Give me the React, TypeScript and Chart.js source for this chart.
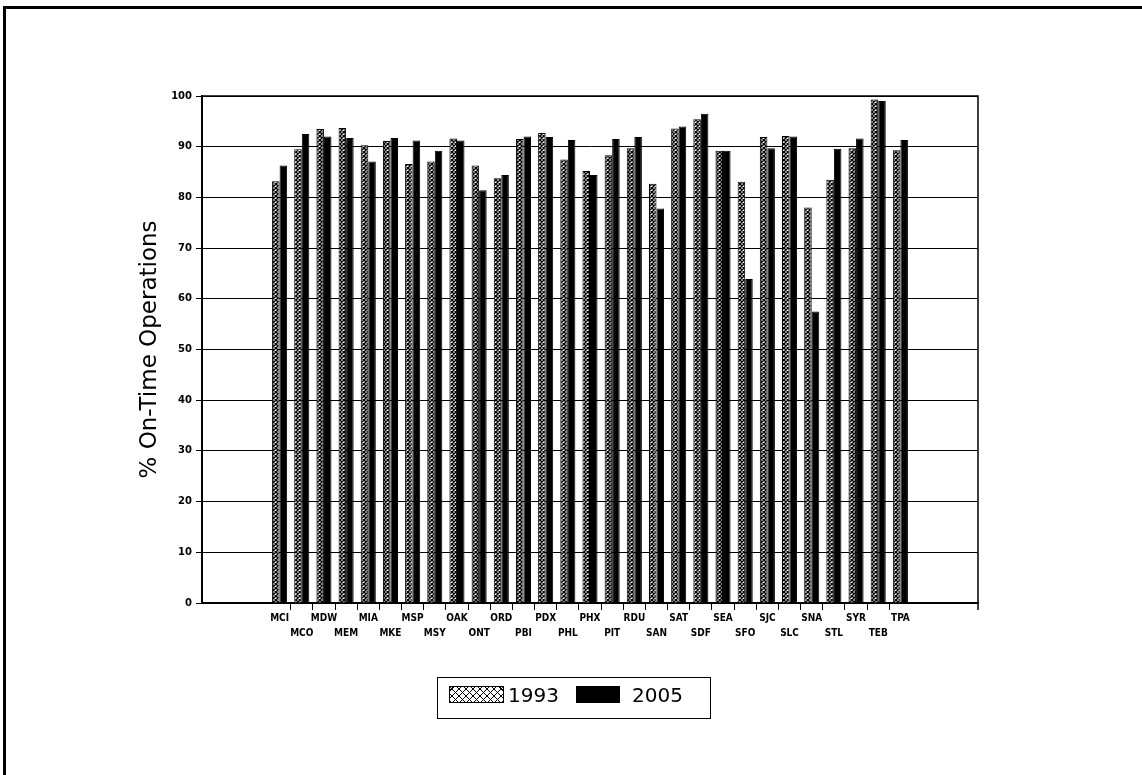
import React, { useEffect, useRef } from 'react';
import { Chart, registerables } from 'chart.js';

Chart.register(...registerables);

const airports = ['MCI', 'MCO', 'MDW', 'MEM', 'MIA', 'MKE', 'MSP', 'MSY', 'OAK', 'ONT', 'ORD', 'PBI', 'PDX', 'PHL', 'PHX', 'PIT', 'RDU', 'SAN', 'SAT', 'SDF', 'SEA', 'SFO', 'SJC', 'SLC', 'SNA', 'STL', 'SYR', 'TEB', 'TPA'];
const values1993 = [83.2, 89.5, 93.5, 93.7, 90.3, 91.1, 86.6, 87.1, 91.6, 86.3, 83.8, 91.5, 92.7, 87.5, 85.2, 88.3, 89.7, 82.7, 93.6, 95.4, 89.2, 83.1, 91.9, 92.1, 78.0, 83.5, 89.7, 99.3, 89.3];
const values2005 = [86.3, 92.5, 92.0, 91.7, 87.1, 91.7, 91.2, 89.2, 91.2, 81.4, 84.4, 92.0, 91.9, 91.3, 84.4, 91.5, 91.9, 77.8, 94.0, 96.5, 89.2, 63.9, 89.7, 92.0, 57.5, 89.6, 91.6, 99.0, 91.3];
const seriesNames = ['1993', '2005'];
const yTitle = '% On-Time Operations';
const yMin = 0;
const yMax = 100;
const yStep = 10;
const emptySlots = 3;

const W = 1142;
const H = 775;

function padArr<T>(arr: T[], fill: T): T[] {
  const pad = new Array(emptySlots).fill(fill);
  return [...pad, ...arr, ...pad];
}

function makePattern(): CanvasPattern | string {
  const n = 4;
  const tile = document.createElement('canvas');
  tile.width = n;
  tile.height = n;
  const t = tile.getContext('2d');
  if (!t) return '#777';
  t.fillStyle = '#fff';
  t.fillRect(0, 0, n, n);
  t.strokeStyle = '#000';
  t.lineWidth = 1.4;
  t.beginPath();
  t.moveTo(0, 0);
  t.lineTo(n, n);
  t.moveTo(n, 0);
  t.lineTo(0, n);
  t.stroke();
  const ctx = document.createElement('canvas').getContext('2d');
  const p = ctx ? ctx.createPattern(tile, 'repeat') : null;
  return p || '#777';
}

const frameBorder = {
  id: 'frameBorder',
  afterDraw(chart: any) {
    const { ctx, chartArea } = chart;
    ctx.save();
    ctx.strokeStyle = '#000';
    ctx.lineWidth = 1.5;
    ctx.beginPath();
    ctx.moveTo(chartArea.left, chartArea.top);
    ctx.lineTo(chartArea.right, chartArea.top);
    ctx.lineTo(chartArea.right, chartArea.bottom + 7);
    ctx.stroke();
    ctx.restore();
  },
};

export default function App() {
  const ref = useRef<HTMLCanvasElement | null>(null);

  useEffect(() => {
    if (!ref.current) return;
    const labels = padArr(airports, '');
    const pattern = makePattern();
    const chart = new Chart(ref.current, {
      type: 'bar',
      data: {
        labels,
        datasets: [
          {
            label: seriesNames[0],
            data: padArr<number | null>(values1993, null),
            backgroundColor: pattern as any,
            borderColor: '#000',
            borderWidth: 1,
            categoryPercentage: 0.68,
            barPercentage: 1,
          },
          {
            label: seriesNames[1],
            data: padArr<number | null>(values2005, null),
            backgroundColor: '#000',
            borderColor: '#000',
            borderWidth: 1,
            categoryPercentage: 0.68,
            barPercentage: 1,
          },
        ],
      },
      options: {
        responsive: false,
        animation: false,
        devicePixelRatio: 1,
        layout: { padding: { left: 139, top: 96, right: 164, bottom: 122 } },
        plugins: {
          legend: { display: false },
          tooltip: { enabled: false },
          title: { display: false },
        },
        scales: {
          x: {
            offset: true,
            grid: {
              display: true,
              offset: true,
              drawOnChartArea: false,
              drawTicks: true,
              tickLength: 7,
              lineWidth: 1,
              color: '#000',
              tickColor: (c: any) => (c.index >= emptySlots + 1 && c.index <= emptySlots + airports.length - 1 ? '#000' : 'rgba(0,0,0,0)'),
            },
            border: { display: true, color: '#000', width: 2 },
            ticks: {
              autoSkip: false,
              maxRotation: 0,
              minRotation: 0,
              padding: 1,
              color: '#000',
              font: { family: '"DejaVu Sans Condensed", "DejaVu Sans"', weight: 'bold', size: 10, lineHeight: 1.5 },
              callback: (_v: any, idx: number) => {
                const name = labels[idx];
                if (!name) return '';
                const k = idx - emptySlots;
                return k % 2 === 0 ? [name, ''] : ['', name];
              },
            },
            afterFit: (s: any) => {
              s.height = 50;
              s.paddingLeft = 0;
              s.paddingRight = 0;
            },
          },
          y: {
            min: yMin,
            max: yMax,
            grid: { color: '#000', lineWidth: 1, tickLength: 6 },
            border: { display: true, color: '#000', width: 2 },
            ticks: {
              stepSize: yStep,
              padding: 4,
              color: '#000',
              font: { family: 'DejaVu Sans', weight: 'bold', size: 10 },
            },
            title: {
              display: true,
              text: yTitle,
              color: '#000',
              padding: 0,
              font: { family: 'DejaVu Sans', size: 23, lineHeight: 1 },
            },
            afterFit: (s: any) => {
              s.width = 63;
              s.paddingTop = 0;
              s.paddingBottom = 0;
            },
          },
        },
      },
      plugins: [frameBorder],
    });
    return () => chart.destroy();
  }, []);

  const hatch =
    'repeating-linear-gradient(45deg, #000 0 1px, transparent 1px 5px), repeating-linear-gradient(-45deg, #000 0 1px, transparent 1px 5px), #fff';

  return (
    <div style={{ position: 'absolute', left: 0, top: 0, width: W, height: H, background: '#fff', overflow: 'hidden' }}>
      <div style={{ position: 'absolute', left: 3, top: 6, width: W, height: H, borderLeft: '3px solid #000', borderTop: '3px solid #000' }} />
      <canvas ref={ref} width={W} height={H} style={{ position: 'absolute', left: 0, top: 0 }} />
      <div
        style={{
          position: 'absolute',
          left: 437,
          top: 677,
          width: 274,
          height: 42,
          border: '1px solid #000',
          boxSizing: 'border-box',
          fontFamily: 'DejaVu Sans',
          fontSize: 20,
          color: '#000',
        }}
      >
        <div style={{ position: 'absolute', left: 11, top: 8, width: 55, height: 17, background: hatch, border: '1px solid #000', boxSizing: 'border-box' }} />
        <div style={{ position: 'absolute', left: 70, top: 5, lineHeight: '24px' }}>{seriesNames[0]}</div>
        <div style={{ position: 'absolute', left: 138, top: 8, width: 44, height: 17, background: '#000' }} />
        <div style={{ position: 'absolute', left: 194, top: 5, lineHeight: '24px' }}>{seriesNames[1]}</div>
      </div>
    </div>
  );
}
